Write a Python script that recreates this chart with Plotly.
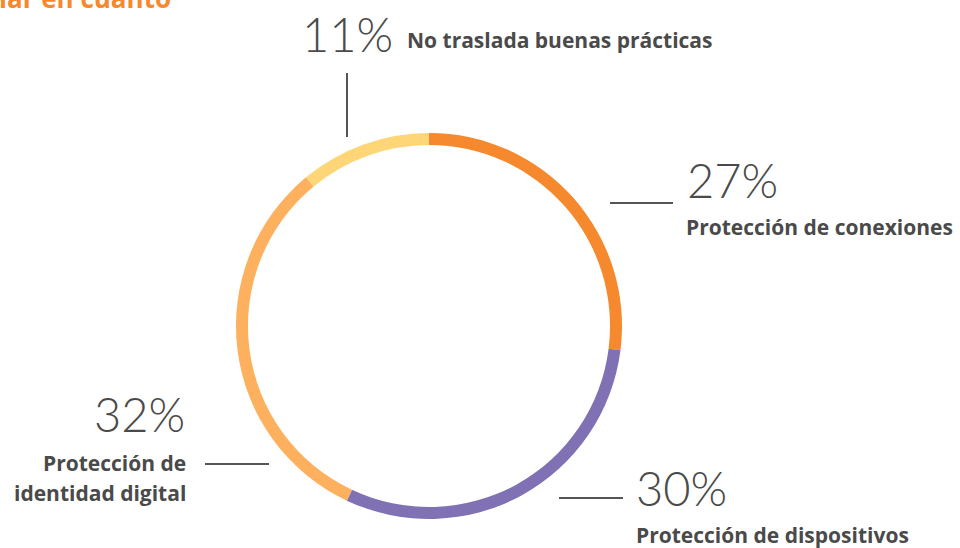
import plotly.graph_objects as go

# Slices, clockwise from 12 o'clock
labels = [
    "Protección de conexiones",
    "Protección de dispositivos",
    "Protección de identidad digital",
    "No traslada buenas prácticas",
]
values = [27, 30, 32, 11]
colors = ["#F6892D", "#8070B4", "#FDB05E", "#FED678"]
pct_text = ["27%", "30%", "32%", "11%"]

W, H = 960, 548
TEXT = "#4A4A4A"
LINE = "#555555"
NUM_FONT = "Lato, 'Open Sans', sans-serif"
LBL_FONT = "'Open Sans', Lato, sans-serif"
LBL_SIZE = 21


def px(x):
    return x / W


def py(y):
    return 1 - y / H


# ring geometry (pixels)
cx, cy, r = 429, 326, 193

fig = go.Figure(
    go.Pie(
        labels=labels,
        values=values,
        marker=dict(colors=colors, line=dict(width=0)),
        hole=0.938,
        sort=False,
        direction="clockwise",
        rotation=0,
        textinfo="none",
        hoverinfo="label+percent",
        showlegend=False,
        domain=dict(x=[px(cx - r), px(cx + r)], y=[py(cy + r), py(cy - r)]),
    )
)

annotations = []


def add_text(x, y, text, size, weight, family, xanchor="left", yanchor="middle", color=TEXT):
    annotations.append(
        dict(
            x=px(x), y=py(y), xref="paper", yref="paper",
            text=text, showarrow=False,
            xanchor=xanchor, yanchor=yanchor,
            font=dict(family=family, size=size, color=color, weight=weight),
        )
    )


# heading, running off the top edge
add_text(-3, 18, "lar en cuanto", 26, 700, LBL_FONT, yanchor="bottom", color="#F6892D")

# percentage figures (light weight) and category names (bold)
add_text(300, 34, pct_text[3], 47, 300, NUM_FONT)
add_text(405, 40, labels[3], LBL_SIZE, 700, LBL_FONT)

add_text(685, 180, pct_text[0], 47, 300, NUM_FONT)
add_text(684, 227, labels[0], LBL_SIZE, 700, LBL_FONT)

add_text(187, 414, pct_text[2], 47, 300, NUM_FONT, xanchor="right")
add_text(188, 463, "Protección de", LBL_SIZE, 700, LBL_FONT, xanchor="right")
add_text(188, 493, "identidad digital", LBL_SIZE, 700, LBL_FONT, xanchor="right")

add_text(634, 488, pct_text[1], 47, 300, NUM_FONT)
add_text(634, 535, labels[1], LBL_SIZE, 700, LBL_FONT)

shapes = []
for x0, y0, x1, y1 in [
    (347, 73, 347, 137),
    (610, 203, 673, 203),
    (205, 464, 269, 464),
    (559, 498, 623, 498),
]:
    shapes.append(
        dict(type="line", xref="paper", yref="paper",
             x0=px(x0), y0=py(y0), x1=px(x1), y1=py(y1),
             line=dict(color=LINE, width=2))
    )

fig.update_layout(
    width=W, height=H,
    margin=dict(l=0, r=0, t=0, b=0),
    paper_bgcolor="white",
    plot_bgcolor="white",
    annotations=annotations,
    shapes=shapes,
)

fig.write_html("out.html")
